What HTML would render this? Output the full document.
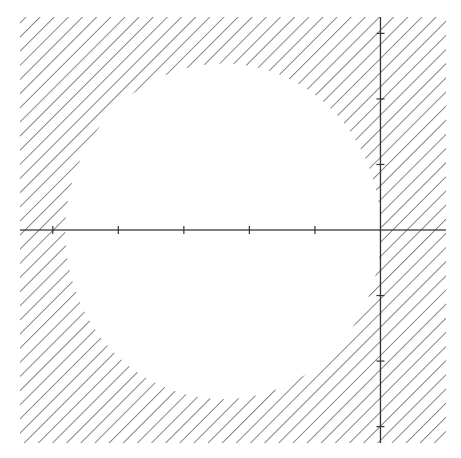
<!DOCTYPE html>
<html><head><meta charset="utf-8"><style>html,body{margin:0;padding:0;background:#fff}svg{display:block}</style></head>
<body>
<svg id="chart" width="461" height="458" viewBox="0 0 461 458">
<defs>
<pattern id="hatch" patternUnits="userSpaceOnUse" width="10" height="10" patternTransform="rotate(45)">
<line x1="0" y1="0" x2="0" y2="10" stroke="#555" stroke-width="1.4"/>
</pattern>
</defs>
<g id="plot"></g>
</svg>
<script>
const xTicks = [-5, -4, -3, -2, -1];
const yTicks = [-3, -2, -1, 1, 2, 3];
const xDomain = [-5.5, 1.0];
const yDomain = [-3.25, 3.25];
const holeCenter = [-2.4, -0.02];
const holeRadii = [2.41, 2.56];

const px0 = 20, px1 = 446, py0 = 17, py1 = 443;
const sx = v => px0 + (v - xDomain[0]) / (xDomain[1] - xDomain[0]) * (px1 - px0);
const sy = v => py1 - (v - yDomain[0]) / (yDomain[1] - yDomain[0]) * (py1 - py0);
const NS = 'http://www.w3.org/2000/svg';
const g = document.getElementById('plot');
function mk(tag, attrs){const e=document.createElementNS(NS,tag);for(const k in attrs)e.setAttribute(k,attrs[k]);g.appendChild(e);return e;}

const rx = sx(holeRadii[0]) - sx(0);
const ry = sy(0) - sy(holeRadii[1]);
const cx = sx(holeCenter[0]), cy = sy(holeCenter[1]);
const region = mk('path', {
  d: `M${px0},${py0}H${px1}V${py1}H${px0}Z M${cx-rx},${cy} a${rx},${ry} 0 1,0 ${2*rx},0 a${rx},${ry} 0 1,0 ${-2*rx},0Z`,
  fill: 'url(#hatch)', 'fill-rule': 'evenodd'
});



const xAxis = mk('line', {x1: px0, x2: px1, y1: sy(0), y2: sy(0), stroke: '#333', 'stroke-width': 1.3});


const yAxis = mk('line', {x1: sx(0), x2: sx(0), y1: py0, y2: py1, stroke: '#333', 'stroke-width': 1.3});



xTicks.forEach(v => {
  const t = mk('line', {x1: sx(v), x2: sx(v), y1: sy(0)-4, y2: sy(0)+4, stroke: '#333', 'stroke-width': 1.2});
  
  
});
yTicks.forEach(v => {
  const t = mk('line', {x1: sx(0)-4, x2: sx(0)+4, y1: sy(v), y2: sy(v), stroke: '#333', 'stroke-width': 1.2});
  
  
});
</script>
</body></html>
